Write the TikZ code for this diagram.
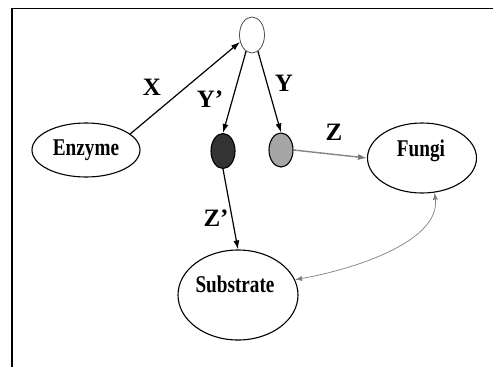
\documentclass[tikz,border=0pt]{standalone}
\usepackage{fontspec}
\setmainfont{Liberation Serif}
\usetikzlibrary{arrows.meta,shapes.geometric}
\begin{document}
\begin{tikzpicture}[x=1pt,y=-1pt,
  oval/.style={ellipse,draw=black,line width=1.1pt,inner sep=0pt},
  nodetext/.style={font=\bfseries\fontsize{24}{26}\selectfont,xscale=0.8},
  lbl/.style={font=\bfseries\fontsize{25}{27}\selectfont},
  arr/.style={-{Latex[length=9pt,width=6pt]},line width=1.2pt},
  garr/.style={-{Latex[length=9pt,width=6pt]},line width=1.4pt,draw=black!55,dotted,dash pattern=on 1pt off 0.4pt},
  curvearr/.style={{Latex[length=7pt,width=5pt]}-{Latex[length=7pt,width=5pt]},line width=0.7pt,draw=black!50}]
\useasboundingbox (0,0) rectangle (493,367);
\fill[white] (0,0) rectangle (493,367);
\draw[line width=1.6pt] (12,367) -- (12,8.5) -- (493,8.5);
% nodes
\node[oval,line width=0.8pt,draw=black!70,minimum width=25pt,minimum height=36pt] (top) at (252,35) {};
\node[oval,minimum width=108pt,minimum height=54pt] (enz) at (86,150) {};
\node[nodetext] at (enz) {Enzyme};
\node[oval,fill=black!80,minimum width=24pt,minimum height=35pt] (dark) at (223,151) {};
\node[oval,fill=black!35,minimum width=24pt,minimum height=34pt] (gray) at (281,150) {};
\node[oval,minimum width=109pt,minimum height=70pt] (fungi) at (422,158) {};
\node[nodetext] at (421,151) {Fungi};
\node[oval,minimum width=120pt,minimum height=90pt] (sub) at (238,295) {};
\node[nodetext] at (235,284) {Substrate};
% connectors
\draw[arr] (enz.20) -- (top.210);
\draw[arr] (top.250) -- (dark.north);
\draw[arr] (top.290) -- (gray.north);
\draw[garr] (gray.east) -- (fungi.west);
\draw[arr] (dark.south) -- (sub.north);
\draw[curvearr] (fungi.-70) .. controls (440,240) and (360,268) .. (sub.15);
% labels
\node[lbl] (lx) at (152,87) {X};
\node[lbl] (ly1) at (210,99) {Y'};
\node[lbl] (ly) at (284,83) {Y};
\node[lbl] (lz) at (334,132) {Z};
\node[lbl] (lz1) at (216,218) {Z'};
\end{tikzpicture}
\end{document}
